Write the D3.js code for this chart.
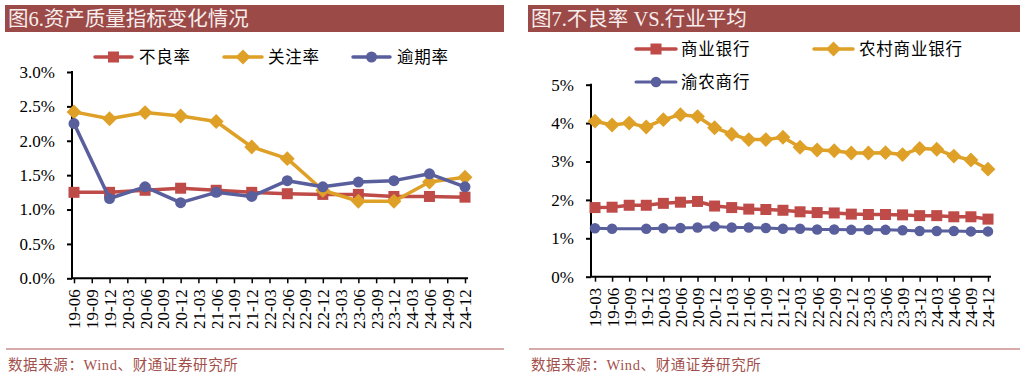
<!DOCTYPE html>
<html><head><meta charset="utf-8">
<script src="https://cdn.jsdelivr.net/npm/d3@7"></script>
<style>
html,body{margin:0;padding:0;background:#fff;}
svg{display:block;}
</style></head>
<body>
<svg id="c" width="1032" height="380"></svg>
<script>
// ---------- data ----------
const leftTitle = "图6.资产质量指标变化情况";
const rightTitle = "图7.不良率 VS.行业平均";
const footerText = "数据来源：Wind、财通证券研究所";

const leftCategories = ["19-06","19-09","19-12","20-03","20-06","20-09","20-12","21-03","21-06","21-09","21-12","22-03","22-06","22-09","22-12","23-03","23-06","23-09","23-12","24-03","24-06","24-09","24-12"];
const leftSeriesNames = ["不良率","关注率","逾期率"];
const nplRate     = [1.25,null,1.25,null,1.28,null,1.31,null,1.28,null,1.25,null,1.23,null,1.22,null,1.22,null,1.19,null,1.19,null,1.18];
const specialRate = [2.42,null,2.32,null,2.41,null,2.36,null,2.28,null,1.91,null,1.74,null,1.28,null,1.12,null,1.12,null,1.40,null,1.47];
const overdueRate = [2.25,null,1.16,null,1.33,null,1.10,null,1.25,null,1.19,null,1.42,null,1.33,null,1.40,null,1.42,null,1.52,null,1.33];
const leftYTicks = [0,0.5,1.0,1.5,2.0,2.5,3.0];

const rightCategories = ["19-03","19-06","19-09","19-12","20-03","20-06","20-09","20-12","21-03","21-06","21-09","21-12","22-03","22-06","22-09","22-12","23-03","23-06","23-09","23-12","24-03","24-06","24-09","24-12"];
const rightSeriesNames = ["商业银行","农村商业银行","渝农商行"];
const commercialBanks = [1.80,1.81,1.86,1.86,1.91,1.94,1.96,1.84,1.80,1.76,1.75,1.73,1.69,1.67,1.66,1.63,1.62,1.62,1.61,1.59,1.59,1.56,1.56,1.50];
const ruralBanks      = [4.05,3.95,4.00,3.90,4.09,4.22,4.17,3.88,3.71,3.57,3.57,3.63,3.37,3.30,3.28,3.22,3.22,3.23,3.18,3.34,3.32,3.14,3.04,2.80];
const cqrcb           = [1.26,1.25,null,1.25,1.26,1.27,1.28,1.31,1.28,1.28,1.27,1.25,1.25,1.23,1.23,1.22,1.22,1.22,1.21,1.19,1.19,1.19,1.18,1.18];
const rightYTicks = [0,1,2,3,4,5];

// ---------- styles ----------
const RED = "#BE4B48", YEL = "#DFA027", BLU = "#595F9C";
const BAR = "#9B4A47", FOOT = "#A2504C", SEP = "#C98F8C";
const LATIN = "'Liberation Serif','Times New Roman',serif";
const CJK = "'Liberation Serif','Noto Sans CJK SC',serif";

const svg = d3.select("#c");

function marker(g, type, x, y, color, size){
  if(type==="square"){
    g.append("rect").attr("x",x-size/2).attr("y",y-size/2).attr("width",size).attr("height",size).attr("fill",color);
  } else if(type==="diamond"){
    const s=size*0.62;
    g.append("path").attr("d",`M${x},${y-s}L${x+s},${y}L${x},${y+s}L${x-s},${y}Z`).attr("fill",color);
  } else {
    g.append("circle").attr("cx",x).attr("cy",y).attr("r",size/2).attr("fill",color);
  }
}

function panel(opt){
  const g = svg.append("g");
  // title bar
  g.append("rect").attr("x",opt.barX0).attr("y",5).attr("width",opt.barX1-opt.barX0).attr("height",27).attr("fill",BAR);
  g.append("text").attr("x",opt.barX0+3).attr("y",26).attr("fill","#F7EDED")
    .style("font-family",CJK).style("font-size","20.5px").text(opt.title);
  // separator and footer
  g.append("line").attr("x1",opt.barX0+1).attr("x2",opt.barX1).attr("y1",349).attr("y2",349)
    .attr("stroke",SEP).attr("stroke-width",1.5);
  g.append("text").attr("x",opt.barX0+3).attr("y",370).attr("fill",FOOT)
    .style("font-family",CJK).style("font-size",14.5+"px").style("letter-spacing","0.6px").text(footerText);

  const x = d3.scalePoint().domain(opt.categories).range([opt.x0,opt.x1]);
  const y = d3.scaleLinear().domain(opt.yDomain).range([opt.yBottom,opt.yTop]);

  // y axis
  const ya = g.append("g").attr("transform",`translate(${opt.axisX},0)`)
    .call(d3.axisLeft(y).tickValues(opt.yTicks).tickFormat(opt.fmt).tickSize(5).tickSizeOuter(0).tickPadding(12));
  ya.select(".domain").attr("stroke","#000").attr("stroke-width",2).attr("d",`M0,${opt.yTop-1}V${opt.yBottom}`);
  ya.selectAll(".tick line").attr("stroke","#000").attr("stroke-width",2);
  ya.selectAll(".tick text").style("font-family",LATIN).style("font-size","17px").attr("fill","#000");

  // x axis
  const xa = g.append("g").attr("transform",`translate(0,${opt.yBottom})`)
    .call(d3.axisBottom(x).tickSize(5).tickSizeOuter(0));
  xa.select(".domain").attr("stroke","#000").attr("stroke-width",2).attr("d",`M${opt.axisX-1},0H${opt.x1+3}`);
  xa.selectAll(".tick line").attr("stroke","#000").attr("stroke-width",1.5);
  xa.selectAll(".tick text").attr("transform","rotate(-90)").attr("x",-11).attr("y",0).attr("dy","0.35em")
    .style("text-anchor","end").style("font-family",LATIN).style("font-size","17px").attr("fill","#000");

  // series
  opt.series.forEach(s=>{
    const pts = opt.categories.map((c,i)=>({c,v:s.values[i]})).filter(d=>d.v!==null);
    const line = d3.line().x(d=>x(d.c)).y(d=>y(d.v));
    g.append("path").datum(pts).attr("d",line).attr("fill","none").attr("stroke",s.color)
      .attr("stroke-width",s.lw).attr("stroke-linejoin","round");
    const mg = g.append("g");
    pts.forEach(d=>marker(mg,s.marker,x(d.c),y(d.v),s.color,s.size));
  });

  // legend
  opt.legend.forEach((l,i)=>{
    const s = opt.series[i];
    g.append("line").attr("x1",l.x1).attr("x2",l.x2).attr("y1",l.y).attr("y2",l.y)
      .attr("stroke",s.color).attr("stroke-width",s.lw).attr("stroke-linecap","round");
    marker(g,s.marker,(l.x1+l.x2)/2,l.y,s.color,s.size);
    g.append("text").attr("x",l.tx).attr("y",l.y).attr("dy","0.36em").attr("fill","#000")
      .style("font-family",CJK).style("font-size","16.5px").style("letter-spacing","0.8px").text(s.name);
  });
}

panel({
  barX0:5, barX1:504, title:leftTitle,
  categories:leftCategories, x0:74, x1:465, axisX:72,
  yDomain:[0,3], yTop:72, yBottom:278.3, yTicks:leftYTicks, fmt:d=>d.toFixed(1)+"%",
  series:[
    {name:leftSeriesNames[0], values:nplRate, color:RED, marker:"square", size:11, lw:3.5},
    {name:leftSeriesNames[1], values:specialRate, color:YEL, marker:"diamond", size:12, lw:3.5},
    {name:leftSeriesNames[2], values:overdueRate, color:BLU, marker:"circle", size:11, lw:3.5}
  ],
  legend:[
    {x1:95,x2:132,y:57,tx:139},
    {x1:224,x2:262,y:57,tx:268},
    {x1:353,x2:390,y:57,tx:397}
  ]
});

panel({
  barX0:528, barX1:1020, title:rightTitle,
  categories:rightCategories, x0:595, x1:988, axisX:591,
  yDomain:[0,5], yTop:84.7, yBottom:276.7, yTicks:rightYTicks, fmt:d=>d+"%",
  series:[
    {name:rightSeriesNames[0], values:commercialBanks, color:RED, marker:"square", size:11, lw:3.5},
    {name:rightSeriesNames[1], values:ruralBanks, color:YEL, marker:"diamond", size:12, lw:3.5},
    {name:rightSeriesNames[2], values:cqrcb, color:BLU, marker:"circle", size:10.5, lw:3}
  ],
  legend:[
    {x1:636,x2:676,y:49,tx:681},
    {x1:814,x2:853,y:49,tx:859},
    {x1:636,x2:676,y:82,tx:681}
  ]
});
</script>
</body></html>
